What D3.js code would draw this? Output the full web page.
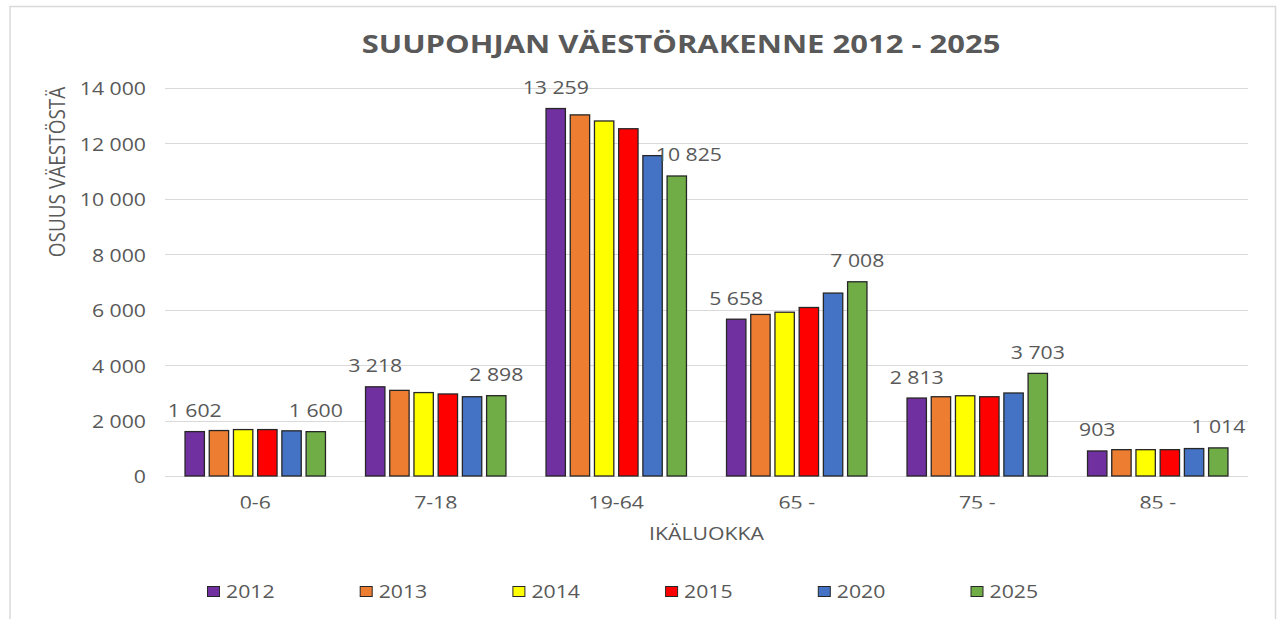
<!DOCTYPE html>
<html>
<head>
<meta charset="utf-8">
<script src="https://cdn.jsdelivr.net/npm/d3@7"></script>
<style>
  html, body { margin: 0; padding: 0; background: #ffffff; }
  svg { display: block; }
  text { font-family: "Open Sans", "Noto Sans", sans-serif; fill: #595959; }
</style>
</head>
<body>
<svg id="chart" width="1277" height="619"></svg>
<script>
// ---- data ----
const categories = ["0-6", "7-18", "19-64", "65 -", "75 -", "85 -"];
const years = ["2012", "2013", "2014", "2015", "2020", "2025"];
const v2012 = [1602, 3218, 13259, 5658, 2813, 903];
const v2013 = [1640, 3090, 13030, 5830, 2860, 950];
const v2014 = [1675, 3010, 12810, 5910, 2895, 950];
const v2015 = [1675, 2960, 12530, 6080, 2860, 950];
const v2020 = [1630, 2860, 11560, 6600, 2995, 990];
const v2025 = [1600, 2898, 10825, 7008, 3703, 1014];
const colors = ["#7030a0", "#ed7d31", "#ffff00", "#ff0000", "#4472c4", "#70ad47"];
const yTicks = [0, 2000, 4000, 6000, 8000, 10000, 12000, 14000];
const labelledYears = ["2012", "2025"];
const titleText = "SUUPOHJAN VÄESTÖRAKENNE 2012 - 2025";
const yTitle = "OSUUS VÄESTÖSTÄ";
const xTitle = "IKÄLUOKKA";

const seriesValues = [v2012, v2013, v2014, v2015, v2020, v2025];

// ---- layout ----
const W = 1277, H = 619;
const SX = 1.18; // horizontal glyph stretch of the reference
const plot = { left: 165, right: 1248, top: 88, bottom: 476 };

const svg = d3.select("#chart");
const fi = d3.formatLocale({ decimal: ",", thousands: "\u00a0", grouping: [3], currency: ["", "€"] });
const fmt = fi.format(",d");

function place(sel, x, y, sx) {
  return sel.attr("transform", `translate(${x},${y}) scale(${sx || SX},1)`);
}

// chart frame
svg.append("rect")
  .attr("x", 10).attr("y", 6.5)
  .attr("width", 1265.5).attr("height", 640)
  .attr("fill", "none").attr("stroke", "#d9d9d9").attr("stroke-width", 1.5);

const x0 = d3.scaleBand().domain(categories).range([plot.left, plot.right])
  .paddingInner(0.222).paddingOuter(0.111);
const x1 = d3.scaleBand().domain(years).range([0, x0.bandwidth()])
  .paddingInner(0.2).paddingOuter(0);
const y = d3.scaleLinear().domain([0, 14000]).range([plot.bottom, plot.top]);

// gridlines
svg.append("g").selectAll("line").data(yTicks).join("line")
  .attr("x1", plot.left).attr("x2", plot.right)
  .attr("y1", d => Math.round(y(d)) + 0.5).attr("y2", d => Math.round(y(d)) + 0.5)
  .attr("stroke", "#d9d9d9").attr("stroke-width", 1);

// y tick labels via axis
const yAxis = d3.axisLeft(y).tickValues(yTicks).tickFormat(fmt).tickSize(0).tickPadding(0);
const gy = svg.append("g").attr("transform", `translate(${plot.left - 19},0)`).call(yAxis);
gy.select(".domain").remove();
gy.selectAll("text")
  .attr("x", null).attr("dy", null)
  .style("font-size", "18px").style("fill", "#595959")
  .style("font-family", '"Open Sans", sans-serif')
  .attr("dominant-baseline", "central")
  .attr("transform", `scale(${SX},1)`);

// x category labels (clipped at bottom like the reference)
svg.append("defs").append("clipPath").attr("id", "catclip")
  .append("rect").attr("x", 0).attr("y", 480).attr("width", W).attr("height", 28.5);
const gx = svg.append("g").attr("clip-path", "url(#catclip)");
gx.selectAll("text").data(categories).join("text")
  .each(function (d) { place(d3.select(this), x0(d) + x0.bandwidth() / 2, 508.5); })
  .attr("text-anchor", "middle").style("font-size", "18px")
  .text(d => d);

// bars
const groups = svg.append("g").selectAll("g").data(categories).join("g")
  .attr("transform", d => `translate(${x0(d)},0)`);
groups.selectAll("rect")
  .data((c, ci) => years.map((yr, si) => ({ yr, si, v: seriesValues[si][ci] })))
  .join("rect")
  .attr("x", d => x1(d.yr))
  .attr("y", d => y(d.v))
  .attr("width", x1.bandwidth())
  .attr("height", d => y(0) - y(d.v))
  .attr("fill", d => colors[d.si])
  .attr("stroke", "#262626").attr("stroke-width", 1.3);

// data labels (first and last series); a label that would sit on the
// neighbouring taller bar is nudged sideways, as the spreadsheet did
groups.each(function (c, ci) {
  const g = d3.select(this);
  labelledYears.forEach(yr => {
    const si = years.indexOf(yr);
    const v = seriesValues[si][ci];
    const by = y(v) - 14.5;
    let dx = 0;
    if (si === years.length - 1) {
      const prev = seriesValues[si - 1][ci];
      if (y(prev) < by) dx = x1.step() / 2;
    }
    const t = g.append("text")
      .attr("text-anchor", "middle").style("font-size", "18px")
      .text(fmt(v));
    place(t, x1(yr) + x1.bandwidth() / 2 + dx, by);
  });
});

// title
place(svg.append("text").attr("text-anchor", "middle")
  .style("font-size", "25px").style("font-weight", "700")
  .text(titleText), 681, 53, 1.24);

// axis titles
place(svg.append("text").attr("text-anchor", "middle").style("font-size", "18px")
  .text(xTitle), (plot.left + plot.right) / 2, 540);

svg.append("text").attr("text-anchor", "middle").style("font-size", "19px")
  .attr("transform", `translate(65,172) scale(${SX},1) rotate(-90)`)
  .text(yTitle);

// legend
const lx = d3.scaleBand().domain(years).range([207, 207 + 6 * 152.7]);
const leg = svg.append("g").selectAll("g").data(years).join("g")
  .attr("transform", d => `translate(${lx(d)},0)`);
leg.append("rect")
  .attr("x", 0.5).attr("y", 586.5).attr("width", 12).attr("height", 10)
  .attr("fill", (d, i) => colors[i]).attr("stroke", "#262626").attr("stroke-width", 1);
leg.append("text").style("font-size", "18px")
  .attr("transform", `translate(19,598) scale(${SX},1)`)
  .text(d => d);
</script>
</body>
</html>
